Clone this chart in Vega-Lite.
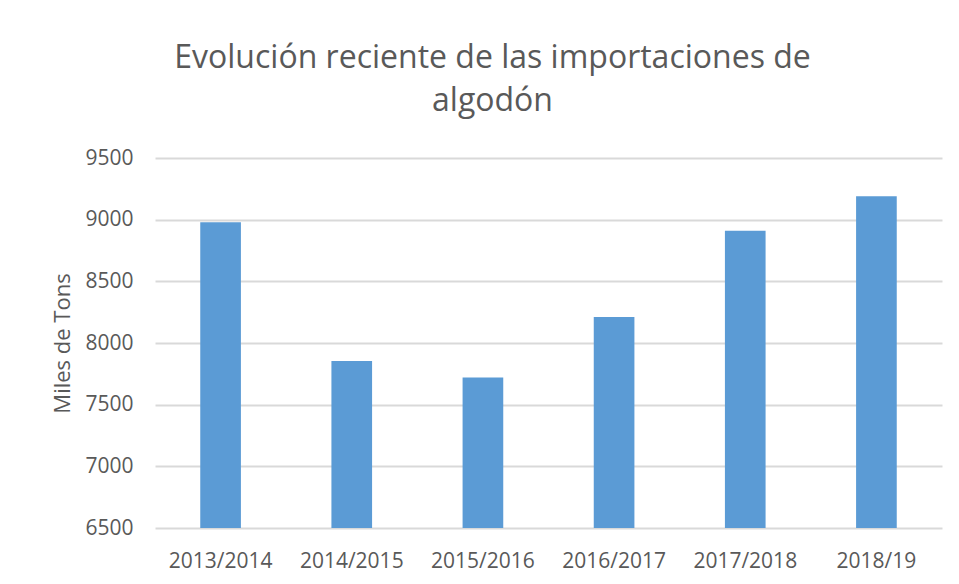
{
  "$schema": "https://vega.github.io/schema/vega-lite/v6.json",
  "autosize": "none",
  "width": 787,
  "height": 370,
  "padding": {"left": 155, "top": 158, "right": 17, "bottom": 56},
  "background": "white",
  "title": {
    "text": ["Evolución reciente de las importaciones de", "algodón"],
    "anchor": "middle",
    "frame": "group",
    "dx": -56,
    "offset": 4,
    "baseline": "alphabetic",
    "lineHeight": 43,
    "font": "Open Sans",
    "fontSize": 32,
    "fontWeight": "normal",
    "color": "#595959"
  },
  "data": {
    "values": [
      {"season": "2013/2014", "tons": 8980},
      {"season": "2014/2015", "tons": 7855},
      {"season": "2015/2016", "tons": 7720},
      {"season": "2016/2017", "tons": 8210},
      {"season": "2017/2018", "tons": 8910},
      {"season": "2018/19", "tons": 9190}
    ]
  },
  "mark": {"type": "bar", "color": "#5B9BD5", "clip": true},
  "encoding": {
    "x": {
      "field": "season",
      "type": "nominal",
      "sort": null,
      "scale": {"paddingInner": 0.69, "paddingOuter": 0.345},
      "axis": {
        "title": null,
        "labelAngle": 0,
        "domain": false,
        "ticks": false,
        "tickSize": 0,
        "labelPadding": 22,
        "labelFont": "Open Sans",
        "labelFontSize": 21,
        "labelColor": "#595959"
      }
    },
    "y": {
      "field": "tons",
      "type": "quantitative",
      "scale": {"domain": [6500, 9500], "zero": false, "nice": false},
      "axis": {
        "title": "Miles de Tons",
        "values": [6500, 7000, 7500, 8000, 8500, 9000, 9500],
        "format": "d",
        "domain": false,
        "ticks": false,
        "tickSize": 0,
        "labelPadding": 22,
        "labelFont": "Open Sans",
        "labelFontSize": 21,
        "labelColor": "#595959",
        "titleFont": "Open Sans",
        "titleFontSize": 22,
        "titleFontWeight": "normal",
        "titleColor": "#595959",
        "titlePadding": 10,
        "gridColor": "#d9d9d9",
        "gridWidth": 2
      }
    }
  },
  "config": {"view": {"stroke": null}}
}
